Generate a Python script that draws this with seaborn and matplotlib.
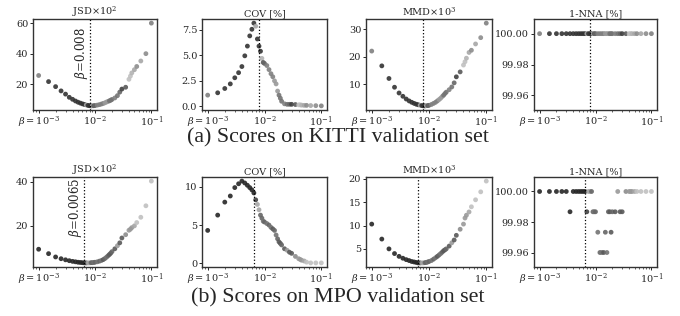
import numpy as np
import pandas as pd
import matplotlib
matplotlib.use("Agg")
import matplotlib.pyplot as plt
import matplotlib.transforms as mtransforms
import seaborn as sns

# ---------------- data ----------------
betas = [0.001, 0.0015, 0.002, 0.0025, 0.003, 0.0035, 0.004, 0.0045, 0.005, 0.0055,
         0.006, 0.0065, 0.007, 0.0075, 0.008, 0.0085, 0.009, 0.0095, 0.01, 0.011,
         0.012, 0.013, 0.014, 0.015, 0.016, 0.017, 0.018, 0.019, 0.02, 0.0225,
         0.025, 0.0275, 0.03, 0.035, 0.04, 0.0425, 0.045, 0.05, 0.055, 0.065,
         0.08, 0.1]

kitti_jsd = [25.7, 21.7, 18.4, 15.6, 13.5, 11.4, 10.1, 9.0, 8.2, 7.6,
             7.1, 6.7, 6.4, 6.1, 5.9, 5.8, 5.8, 5.9, 6.0, 6.3,
             6.6, 7.0, 7.4, 7.8, 8.3, 8.7, 9.1, 9.5, 10.0, 11.0,
             12.5, 14.8, 16.8, 18.0, 23.2, 25.3, 27.4, 29.5, 31.6, 35.2,
             40.0, 60.0]
kitti_cov = [1.1, 1.33, 1.75, 2.2, 2.8, 3.3, 3.9, 4.95, 5.9, 6.9,
             7.55, 8.15, 7.85, 6.6, 5.9, 5.4, 4.7, 4.3, 4.2, 4.0,
             3.6, 3.2, 2.9, 2.5, 2.2, 1.5, 1.1, 0.8, 0.5, 0.25,
             0.2, 0.2, 0.2, 0.18, 0.15, 0.15, 0.12, 0.1, 0.1, 0.08,
             0.07, 0.05]
kitti_mmd = [22.1, 16.7, 12.1, 8.9, 6.8, 5.6, 4.6, 3.9, 3.4, 3.0,
             2.7, 2.5, 2.3, 2.2, 2.1, 2.1, 2.15, 2.2, 2.3, 2.6,
             3.0, 3.4, 3.9, 4.4, 4.9, 5.5, 6.0, 6.6, 7.1, 8.0,
             9.0, 10.5, 12.7, 14.5, 17.0, 18.2, 19.5, 21.6, 22.4, 24.7,
             27.0, 32.3]
kitti_nna = [100.0] * 42
kitti_shade = [0.5, 0.2, 0.2, 0.2, 0.2, 0.2, 0.2, 0.2, 0.2, 0.2,
               0.2, 0.2, 0.65, 0.2, 0.2, 0.2, 0.7, 0.35, 0.4, 0.5,
               0.5, 0.5, 0.5, 0.6, 0.6, 0.6, 0.45, 0.45, 0.45, 0.5,
               0.45, 0.4, 0.25, 0.35, 0.75, 0.75, 0.7, 0.65, 0.55, 0.65,
               0.55, 0.5]

mpo_jsd = [9.4, 7.4, 5.9, 5.1, 4.6, 4.2, 3.9, 3.7, 3.5, 3.4,
           3.3, 3.2, 3.2, 3.2, 3.2, 3.3, 3.3, 3.4, 3.5, 3.7,
           4.0, 4.3, 4.7, 5.2, 5.8, 6.4, 7.0, 7.6, 8.3, 9.6,
           11.0, 12.3, 14.5, 16.0, 18.0, 18.5, 19.2, 20.0, 21.5, 23.9,
           29.1, 40.3]
mpo_cov = [4.3, 6.3, 8.0, 8.8, 9.9, 10.4, 10.75, 10.5, 10.2, 9.9,
           9.6, 9.2, 8.3, 7.7, 7.0, 6.3, 5.9, 5.5, 5.4, 5.2,
           5.0, 4.7, 4.5, 4.3, 3.7, 3.2, 2.8, 2.6, 2.4, 1.9,
           1.7, 1.45, 1.3, 0.9, 0.6, 0.5, 0.4, 0.3, 0.15, 0.05,
           0.05, 0.05]
mpo_mmd = [10.3, 7.1, 5.0, 4.0, 3.4, 3.0, 2.7, 2.5, 2.3, 2.2,
           2.1, 2.0, 2.0, 2.0, 2.0, 2.05, 2.1, 2.2, 2.3, 2.5,
           2.8, 3.1, 3.4, 3.7, 4.0, 4.3, 4.6, 4.8, 5.0, 5.6,
           6.3, 6.9, 7.9, 9.2, 10.3, 11.6, 12.2, 12.9, 14.0, 15.5,
           17.2, 19.5]
mpo_nna = [100.0, 100.0, 100.0, 100.0, 100.0, 99.9867, 100.0, 100.0, 100.0, 100.0,
           100.0, 100.0, 99.9867, 100.0, 100.0, 100.0, 99.9867, 99.9867, 99.9867, 99.9733,
           99.96, 99.96, 99.96, 99.9733, 99.96, 99.9867, 99.9867, 99.9733, 99.9867, 99.9867,
           100.0, 99.9867, 99.9867, 100.0, 100.0, 100.0, 100.0, 100.0, 100.0, 100.0,
           100.0, 100.0]
mpo_shade = [0.15, 0.15, 0.15, 0.15, 0.15, 0.15, 0.15, 0.15, 0.15, 0.15,
             0.15, 0.15, 0.25, 0.65, 0.65, 0.4, 0.4, 0.45, 0.4, 0.45,
             0.4, 0.45, 0.35, 0.4, 0.45, 0.4, 0.35, 0.35, 0.4, 0.35,
             0.6, 0.35, 0.35, 0.55, 0.6, 0.6, 0.6, 0.65, 0.75, 0.75,
             0.75, 0.75]

titles = [r"JSD$\times10^2$", "COV [%]", r"MMD$\times10^3$", "1-NNA [%]"]
captions = ["(a) Scores on KITTI validation set", "(b) Scores on MPO validation set"]
best_beta = [0.008, 0.0065]
beta_labels = [r"$\beta$=0.008", r"$\beta$=0.0065"]
xtick_vals = [1e-3, 1e-2, 1e-1]
xtick_labels = [r"$\beta=10^{-3}\quad\;$", r"$10^{-2}$", r"$10^{-1}$"]

rows = [
    (kitti_jsd, kitti_cov, kitti_mmd, kitti_nna, kitti_shade),
    (mpo_jsd, mpo_cov, mpo_mmd, mpo_nna, mpo_shade),
]

# ---------------- style ----------------
sns.set_theme(style="ticks")
plt.rcParams["font.family"] = ["DejaVu Serif"]
plt.rcParams["mathtext.fontset"] = "dejavuserif"
plt.rcParams["axes.edgecolor"] = "#333333"
plt.rcParams["axes.linewidth"] = 1.0

fig = plt.figure(figsize=(6.8, 3.16), dpi=100)
W, H = 680.0, 316.0
col_px = [(33, 157), (202, 327), (366, 492), (534, 657)]
row_px = [(19, 110), (177, 267)]
label_y = [0.62, 0.667]
cap_y = [138, 298]

for r, row in enumerate(rows):
    series = row[:4]
    shade = row[4]
    for c in range(4):
        x0, x1 = col_px[c]
        y0, y1 = row_px[r]
        ax = fig.add_axes([x0 / W, 1 - y1 / H, (x1 - x0) / W, (y1 - y0) / H])
        df = pd.DataFrame({"beta": betas, "val": series[c], "shade": shade})
        sns.scatterplot(data=df, x="beta", y="val", hue="shade", palette="gray",
                        hue_norm=(0, 1), s=12, linewidth=0, alpha=0.9,
                        legend=False, ax=ax)
        ax.set_xscale("log")
        ax.axvline(best_beta[r], color="black", ls=":", lw=0.9)
        ax.set_xlabel("")
        ax.set_ylabel("")
        ax.set_title(titles[c], fontsize=7, pad=2)
        ax.set_xticks(xtick_vals)
        ax.set_xticklabels(xtick_labels)
        ax.tick_params(axis="both", labelsize=7, length=2.5, width=0.7, pad=1)
        ax.tick_params(axis="x", which="minor", length=1.5, width=0.5)
        if c == 3:
            ax.set_ylim(99.9505, 100.0095)
            ax.set_yticks([99.96, 99.98, 100.0])
            ax.yaxis.set_major_formatter(matplotlib.ticker.FormatStrFormatter("%.2f"))
        if c == 0:
            ax.text(best_beta[r], label_y[r], beta_labels[r], rotation=90,
                    ha="right", va="center", fontsize=8.5,
                    transform=mtransforms.blended_transform_factory(ax.transData, ax.transAxes))
    fig.text(338 / W, 1 - cap_y[r] / H, captions[r], ha="center", va="center",
             fontsize=15.8, family=["Liberation Serif"])

fig.savefig("out.png", dpi=100)
